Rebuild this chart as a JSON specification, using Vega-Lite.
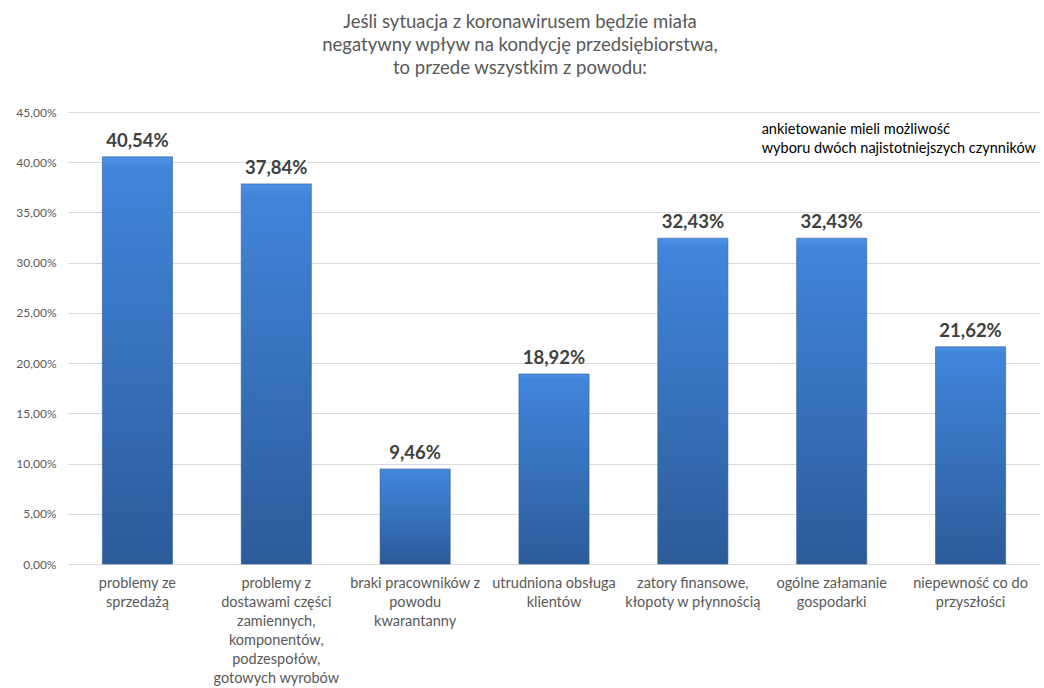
{
  "$schema": "https://vega.github.io/schema/vega-lite/v6.json",
  "autosize": {"type": "none"},
  "width": 972,
  "height": 452,
  "padding": {"left": 68, "top": 112, "right": 4, "bottom": 124},
  "background": "white",
  "title": {
    "text": ["Jeśli sytuacja z koronawirusem będzie miała", "negatywny wpływ na kondycję przedsiębiorstwa,", "to przede  wszystkim z powodu:"],
    "font": "Lato",
    "fontSize": 18.5,
    "fontWeight": "normal",
    "color": "#595959",
    "lineHeight": 23,
    "anchor": "middle",
    "dx": -34,
    "offset": 29
  },
  "config": {
    "locale": {"number": {"decimal": ",", "thousands": " ", "grouping": [3], "currency": ["", " zł"]}},
    "view": {"stroke": null},
    "font": "Lato"
  },
  "data": {
    "values": [
      {"kategoria": "problemy ze\nsprzedażą", "udzial": 0.4054},
      {"kategoria": "problemy z\ndostawami części\nzamiennych,\nkomponentów,\npodzespołów,\ngotowych wyrobów", "udzial": 0.3784},
      {"kategoria": "braki pracowników z\npowodu\nkwarantanny", "udzial": 0.0946},
      {"kategoria": "utrudniona obsługa\nklientów", "udzial": 0.1892},
      {"kategoria": "zatory finansowe,\nkłopoty w płynnością", "udzial": 0.3243},
      {"kategoria": "ogólne załamanie\ngospodarki", "udzial": 0.3243},
      {"kategoria": "niepewność co do\nprzyszłości", "udzial": 0.2162}
    ]
  },
  "encoding": {
    "x": {
      "field": "kategoria",
      "type": "nominal",
      "sort": null,
      "scale": {"paddingInner": 0.495, "paddingOuter": 0.2475},
      "axis": {
        "title": null,
        "labelAngle": 0,
        "labelExpr": "split(datum.label, '\\n')",
        "labelFont": "Lato",
        "labelFontSize": 14.5,
        "labelColor": "#595959",
        "labelLineHeight": 19,
        "labelPadding": 12,
        "labelBaseline": "top",
        "labelLimit": 200,
        "ticks": false,
        "domainColor": "#d9d9d9",
        "grid": false
      }
    }
  },
  "layer": [
    {
      "mark": {
        "type": "bar",
        "stroke": "#2d5d99",
        "strokeWidth": 0.6,
        "color": {
          "gradient": "linear",
          "x1": 0, "y1": 0, "x2": 0, "y2": 1,
          "stops": [
            {"offset": 0, "color": "#4d92e4"},
            {"offset": 0.03, "color": "#4185da"},
            {"offset": 1, "color": "#2c5b99"}
          ]
        }
      },
      "encoding": {
        "y": {
          "field": "udzial",
          "type": "quantitative",
          "scale": {"domain": [0, 0.45], "nice": false},
          "axis": {
            "title": null,
            "format": ".2%",
            "values": [0, 0.05, 0.1, 0.15, 0.2, 0.25, 0.3, 0.35, 0.4, 0.45],
            "labelFont": "Lato",
            "labelFontSize": 12,
            "labelColor": "#595959",
            "labelPadding": 12,
            "ticks": false,
            "domain": false,
            "gridColor": "#d9d9d9",
            "gridWidth": 1
          }
        }
      }
    },
    {
      "mark": {"type": "text", "baseline": "bottom", "dy": -6, "font": "Lato", "fontSize": 18.5, "fontWeight": "bold", "color": "#404040"},
      "encoding": {
        "y": {"field": "udzial", "type": "quantitative"},
        "text": {"field": "udzial", "type": "quantitative", "format": ".2%"}
      }
    },
    {
      "data": {"values": [{"kategoria": "ogólne załamanie\ngospodarki", "poziom": 0.4316, "tekst": "ankietowanie mieli możliwość\nwyboru dwóch najistotniejszych czynników"}]},
      "mark": {"type": "text", "align": "left", "baseline": "middle", "dx": -35, "lineBreak": "\n", "lineHeight": 19, "font": "Lato", "fontSize": 14.5, "color": "#000000"},
      "encoding": {
        "x": {"field": "kategoria", "type": "nominal", "bandPosition": 0},
        "y": {"field": "poziom", "type": "quantitative"},
        "text": {"field": "tekst"}
      }
    }
  ]
}
